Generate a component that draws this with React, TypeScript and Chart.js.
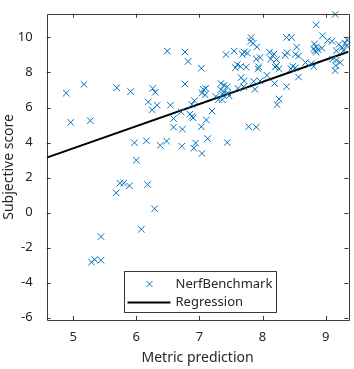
import React, { useEffect, useRef } from "react";
import { Chart, registerables } from "chart.js";

Chart.register(...registerables);

// ---- data ----
const metricPrediction = [
  4.89, 5.17, 4.96, 5.27, 5.69, 5.91, 6.26, 6.30, 6.19, 6.33, 6.25, 6.54, 6.49, 6.77, 6.82, 6.77,
  6.92, 6.88, 6.71, 6.59, 6.85, 6.88, 6.90, 6.59, 6.73, 5.97, 6.16, 6.38, 6.48, 6.72, 6.91, 6.94,
  6.00, 5.74, 5.80, 5.89, 5.68, 6.18, 6.29, 6.08, 5.44, 5.29, 5.34, 5.44, 7.03, 7.06, 7.10, 7.04,
  7.09, 7.11, 7.03, 7.04, 7.13, 7.20, 7.82, 7.81, 7.85, 7.91, 7.42, 7.55, 7.71, 7.76, 7.68, 7.96,
  7.90, 7.60, 7.65, 7.57, 7.74, 7.94, 7.93, 7.66, 7.71, 7.86, 7.96, 8.07, 8.19, 7.34, 7.39, 7.44,
  7.34, 7.39, 7.45, 7.37, 7.61, 7.70, 7.88, 7.26, 7.30, 7.36, 7.47, 7.78, 7.90, 7.44, 8.38, 9.15,
  8.85, 8.38, 8.46, 8.95, 9.03, 9.10, 9.34, 9.31, 8.54, 8.39, 8.36, 8.52, 8.57, 8.82, 8.85, 8.81,
  8.88, 8.94, 8.83, 8.85, 9.21, 9.26, 9.28, 9.17, 9.33, 9.11, 9.17, 9.23, 8.68, 8.77, 8.81, 8.48,
  8.52, 8.45, 8.22, 8.26, 8.20, 9.16, 9.15, 8.57, 8.26, 8.23, 8.11, 8.18, 8.13, 8.22, 8.16,
];
const subjectiveScore = [
  6.82, 7.32, 5.15, 5.25, 7.13, 6.91, 7.09, 6.87, 6.32, 6.13, 5.87, 6.13, 9.22, 9.17, 8.63, 7.34,
  6.39, 6.17, 5.75, 5.37, 5.62, 5.49, 5.41, 4.88, 4.76, 3.99, 4.10, 3.84, 4.08, 3.79, 3.68, 3.97,
  2.99, 1.68, 1.68, 1.53, 1.13, 1.60, 0.22, -0.95, -1.37, -2.83, -2.68, -2.72, 8.24, 7.04, 7.09, 6.82,
  6.73, 5.29, 4.90, 3.38, 4.22, 5.80, 9.99, 9.78, 9.66, 9.46, 9.02, 9.22, 9.17, 9.11, 9.03, 8.85,
  8.77, 8.45, 8.34, 8.27, 8.30, 8.33, 8.21, 7.71, 7.52, 7.49, 7.52, 7.84, 7.37, 7.37, 7.27, 7.19,
  7.02, 6.91, 6.83, 6.74, 7.09, 7.19, 7.04, 6.63, 6.45, 6.45, 6.67, 4.91, 4.88, 4.00, 7.19, 11.32,
  10.72, 10.00, 10.00, 10.10, 9.83, 9.78, 9.87, 9.68, 9.45, 9.13, 8.98, 9.03, 8.94, 9.63, 9.46, 9.35,
  9.30, 9.38, 9.24, 9.16, 9.60, 9.41, 9.24, 9.24, 9.52, 8.76, 8.70, 8.57, 8.57, 8.50, 8.34, 8.35,
  8.27, 8.21, 8.39, 8.21, 8.30, 8.39, 8.11, 7.74, 6.49, 6.17, 9.16, 9.05, 8.77, 8.74, 8.96,
];
const regressionSlope = 1.264;
const regressionIntercept = -2.65;
const xLimits = [4.58, 9.36];
const yLimits = [-6.13, 11.35];
const xTickValues = [5, 6, 7, 8, 9];
const yTickValues = [-6, -4, -2, 0, 2, 4, 6, 8, 10];
const seriesLabel = "NerfBenchmark";
const regressionLabel = "Regression";
const xAxisTitle = "Metric prediction";
const yAxisTitle = "Subjective score";

const MARKER_COLOR = "#0072BD";
const AXIS_COLOR = "#262626";
const FONT_FAMILY = "'Noto Sans', 'Open Sans', sans-serif";

const matlabAxesPlugin = {
  id: "matlabAxes",
  afterDatasetsDraw(chart: any) {
    const { ctx, chartArea } = chart;
    const { left, right, top, bottom } = chartArea;
    const xs = chart.scales.x;
    const ys = chart.scales.y;
    const tl = 4;
    ctx.save();
    ctx.strokeStyle = AXIS_COLOR;
    ctx.lineWidth = 0.9;
    ctx.beginPath();
    ctx.rect(Math.round(left) + 0.5, Math.round(top) + 0.5, Math.round(right - left), Math.round(bottom - top));
    ctx.stroke();
    ctx.beginPath();
    xTickValues.forEach((v) => {
      const px = Math.round(xs.getPixelForValue(v)) + 0.5;
      ctx.moveTo(px, bottom);
      ctx.lineTo(px, bottom - tl);
      ctx.moveTo(px, top);
      ctx.lineTo(px, top + tl);
    });
    yTickValues.forEach((v) => {
      const py = Math.round(ys.getPixelForValue(v)) + 0.5;
      ctx.moveTo(left, py);
      ctx.lineTo(left + tl, py);
      ctx.moveTo(right, py);
      ctx.lineTo(right - tl, py);
    });
    ctx.stroke();

    // legend (MATLAB 'south' location)
    const lw = 152;
    const lh = 41;
    const lx = Math.round((left + right) / 2 - lw / 2 + 2) + 0.5;
    const ly = Math.round(bottom - 8 - lh) + 0.5;
    ctx.fillStyle = "#ffffff";
    ctx.fillRect(lx, ly, lw, lh);
    ctx.strokeStyle = AXIS_COLOR;
    ctx.lineWidth = 0.9;
    ctx.strokeRect(lx, ly, lw, lh);
    const row1 = ly + 12.5;
    const row2 = ly + 31;
    // marker
    ctx.strokeStyle = MARKER_COLOR;
    ctx.lineWidth = 1;
    const mx = lx + 25;
    const r = 3;
    ctx.beginPath();
    ctx.moveTo(mx - r, row1 - r);
    ctx.lineTo(mx + r, row1 + r);
    ctx.moveTo(mx - r, row1 + r);
    ctx.lineTo(mx + r, row1 - r);
    ctx.stroke();
    // line
    ctx.strokeStyle = "#000000";
    ctx.lineWidth = 2;
    ctx.beginPath();
    ctx.moveTo(lx + 3, row2);
    ctx.lineTo(lx + 46, row2);
    ctx.stroke();
    ctx.fillStyle = AXIS_COLOR;
    ctx.font = `13px ${FONT_FAMILY}`;
    ctx.textAlign = "left";
    ctx.textBaseline = "middle";
    ctx.fillText(seriesLabel, lx + 51, row1);
    ctx.fillText(regressionLabel, lx + 51, row2);
    ctx.restore();
  },
};

export default function App() {
  const canvasRef = useRef<HTMLCanvasElement | null>(null);

  useEffect(() => {
    if (!canvasRef.current) return;
    const points = metricPrediction.map((x, i) => ({ x, y: subjectiveScore[i] }));
    const regLine = xLimits.map((x) => ({ x, y: regressionIntercept + regressionSlope * x }));
    const tickFont = { family: FONT_FAMILY, size: 13 };
    const titleFont = { family: FONT_FAMILY, size: 14 };
    const chart = new Chart(canvasRef.current, {
      type: "scatter",
      data: {
        datasets: [
          {
            label: seriesLabel,
            data: points,
            pointStyle: "crossRot",
            pointRadius: 4.6,
            pointBorderWidth: 1,
            borderColor: MARKER_COLOR,
            backgroundColor: MARKER_COLOR,
            showLine: false,
            clip: false,
          } as any,
          {
            type: "line",
            label: regressionLabel,
            data: regLine,
            borderColor: "#000000",
            borderWidth: 2,
            pointRadius: 0,
            fill: false,
          } as any,
        ],
      },
      options: {
        responsive: false,
        animation: false,
        layout: { padding: { left: 0, top: 5, right: 4, bottom: 0 } },
        plugins: { legend: { display: false }, tooltip: { enabled: false } },
        scales: {
          x: {
            type: "linear",
            min: xLimits[0],
            max: xLimits[1],
            grid: { display: false },
            border: { display: false },
            afterBuildTicks: (s: any) => {
              s.ticks = xTickValues.map((value) => ({ value }));
            },
            afterFit: (s: any) => {
              s.height = 49;
            },
            ticks: { color: AXIS_COLOR, font: tickFont, padding: 1, maxRotation: 0, autoSkip: false },
            title: {
              display: true,
              text: xAxisTitle,
              color: AXIS_COLOR,
              font: titleFont,
              padding: { top: 0, bottom: 3 },
            },
          },
          y: {
            type: "linear",
            min: yLimits[0],
            max: yLimits[1],
            grid: { display: false },
            border: { display: false },
            afterBuildTicks: (s: any) => {
              s.ticks = yTickValues.map((value) => ({ value }));
            },
            afterFit: (s: any) => {
              s.width = 46.7;
            },
            ticks: { color: AXIS_COLOR, font: tickFont, padding: 6, autoSkip: false },
            title: {
              display: true,
              text: yAxisTitle,
              color: AXIS_COLOR,
              font: titleFont,
              padding: { top: 1, bottom: 0 },
            },
          },
        },
      } as any,
      plugins: [matlabAxesPlugin],
    });
    return () => chart.destroy();
  }, []);

  return (
    <div style={{ position: "absolute", left: 0, top: 0, width: 354, height: 369, background: "#fff" }}>
      <canvas ref={canvasRef} width={354} height={369} style={{ display: "block" }} />
    </div>
  );
}
